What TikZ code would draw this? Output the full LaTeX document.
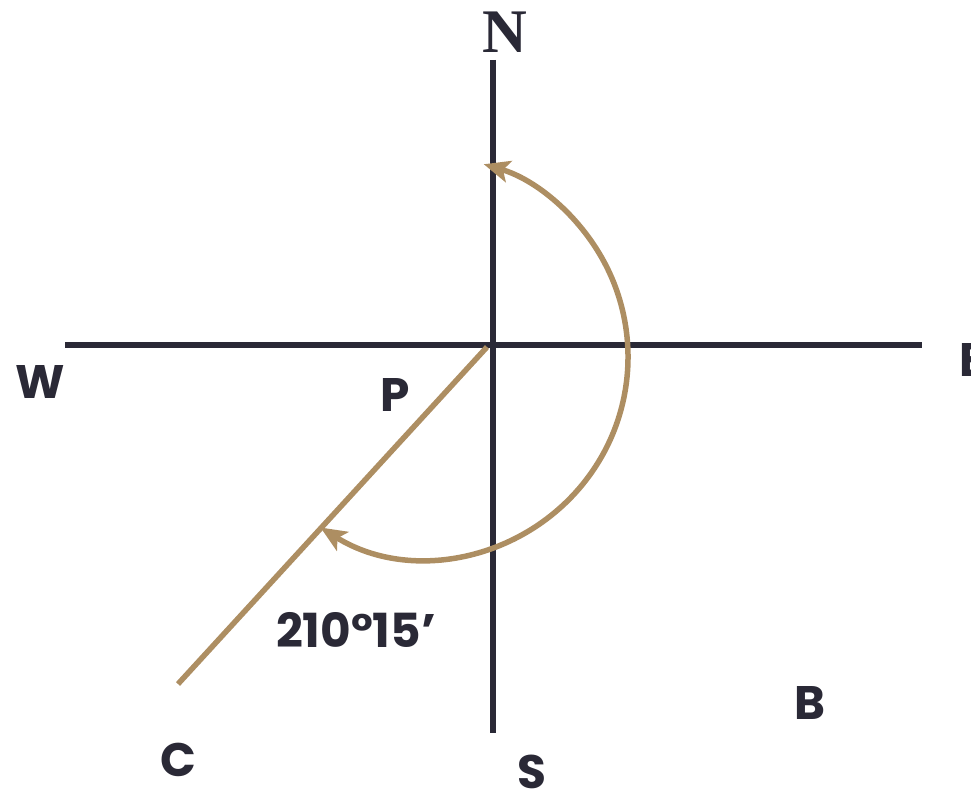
\documentclass[tikz,border=0pt]{standalone}
\usepackage{fontspec}
\setmainfont{Poppins}
\newfontfamily\serifN{Liberation Serif}
\usetikzlibrary{arrows.meta}
\definecolor{ink}{HTML}{2A2936}
\definecolor{tan}{HTML}{AD8E62}
\tikzset{
  axisline/.style={draw=ink, line width=6.5pt},
  bearing/.style={draw=tan, line width=5.5pt},
  lbl/.style={text=ink, font=\fontsize{47}{50}\selectfont\bfseries, inner sep=0pt, anchor=center},
  bothtips/.style={arrows={Stealth[length=26pt,width=22pt,inset=6pt]-Stealth[length=26pt,width=22pt,inset=6pt]}}
}
\begin{document}
\begin{tikzpicture}[x=1pt,y=1pt]
\useasboundingbox (0,0) rectangle (971,792);
% axes
\coordinate (Ntop) at (493,732);
\coordinate (Sbot) at (493,59);
\coordinate (Wend) at (65,447);
\coordinate (Eend) at (922,447);
\draw[axisline] (Ntop) -- (Sbot);
\draw[axisline] (Wend) -- (Eend);
% bearing line
\coordinate (Pstart) at (487,445);
\coordinate (Cend) at (178,108);
\draw[bearing] (Pstart) -- (Cend);
% arc
\coordinate (arcstart) at (320.5,264.5);
\draw[bearing, bothtips] (arcstart) arc[start angle=238, end angle=433.6, radius=201];
% labels
\node[text=ink, font=\serifN\bfseries\fontsize{62}{66}\selectfont, inner sep=0pt] (N) at (505,760) {N};
\node[lbl] (E) at (972,432) {E};
\node[lbl] (W) at (40,410) {W};
\node[lbl] (P) at (395,397) {P};
\node[lbl] (C) at (178,32) {C};
\node[lbl] (S) at (532,20) {S};
\node[lbl] (B) at (810,89) {B};
\node[lbl] (ang) at (356,162) {210°15’};
\end{tikzpicture}
\end{document}
